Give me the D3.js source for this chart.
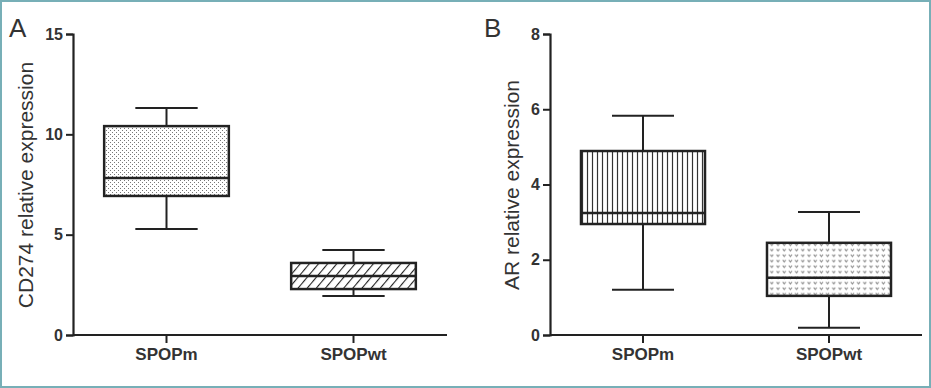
<!DOCTYPE html>
<html>
<head>
<meta charset="utf-8">
<script src="https://cdn.jsdelivr.net/npm/d3@7"></script>
<style>
  body { margin: 0; background: #fff; }
  svg { display: block; font-family: "Liberation Sans", Arial, sans-serif; }
</style>
</head>
<body>
<svg id="chart" width="931" height="388"></svg>
<script>
// data
var categories = ["SPOPm", "SPOPwt"];

var cd274Min    = [5.28, 1.94];
var cd274Q1     = [6.93, 2.29];
var cd274Median = [7.82, 2.94];
var cd274Q3     = [10.41, 3.59];
var cd274Max    = [11.31, 4.24];
var cd274Ticks  = [0, 5, 10, 15];

var arMin    = [1.20, 0.19];
var arQ1     = [2.95, 1.04];
var arMedian = [3.24, 1.52];
var arQ3     = [4.89, 2.45];
var arMax    = [5.83, 3.27];
var arTicks  = [0, 2, 4, 6, 8];

var svg = d3.select("#chart");
var ink = "#222";

// frame
svg.append("rect")
	.attr("x", 1).attr("y", 1)
	.attr("width", 929).attr("height", 386)
	.attr("fill", "none")
	.attr("stroke", "#77afb7")
	.attr("stroke-width", 2);

// fill patterns
var defs = svg.append("defs");

var p = defs.append("pattern").attr("id", "dots")
	.attr("patternUnits", "userSpaceOnUse").attr("width", 4).attr("height", 4);
p.append("rect").attr("width", 4).attr("height", 4).attr("fill", "#fff");
p.append("rect").attr("x", 0).attr("y", 0).attr("width", 1).attr("height", 1).attr("fill", "#777");
p.append("rect").attr("x", 2).attr("y", 2).attr("width", 1).attr("height", 1).attr("fill", "#777");

p = defs.append("pattern").attr("id", "hatch")
	.attr("patternUnits", "userSpaceOnUse").attr("width", 7).attr("height", 7)
	.attr("patternTransform", "rotate(40)");
p.append("rect").attr("width", 7).attr("height", 7).attr("fill", "#fff");
p.append("line").attr("x1", 0).attr("y1", 0).attr("x2", 0).attr("y2", 7)
	.attr("stroke", ink).attr("stroke-width", 2.2);

p = defs.append("pattern").attr("id", "vlines")
	.attr("patternUnits", "userSpaceOnUse").attr("width", 5).attr("height", 5);
p.append("rect").attr("width", 5).attr("height", 5).attr("fill", "#fff");
p.append("line").attr("x1", 2.5).attr("y1", 0).attr("x2", 2.5).attr("y2", 5)
	.attr("stroke", "#333").attr("stroke-width", 1.2);

p = defs.append("pattern").attr("id", "vees")
	.attr("patternUnits", "userSpaceOnUse").attr("width", 6.2).attr("height", 5.5);
p.append("rect").attr("width", 6.2).attr("height", 5.5).attr("fill", "#fff");
p.append("path").attr("d", "M1.5,1.5 L3,3.5 L4.5,1.5")
	.attr("fill", "none").attr("stroke", "#888").attr("stroke-width", 1);

function panel(opt) {
	var y = d3.scaleLinear().domain([0, opt.ticks[opt.ticks.length - 1]]).range([335, 34]);
	var x = d3.scaleBand().domain(categories)
		.range([opt.left, opt.right])
		.paddingInner(1 / 3).paddingOuter(1 / 6);
	var g = svg.append("g");

	var yAxis = g.append("g")
		.attr("transform", "translate(" + opt.left + ",0)")
		.call(d3.axisLeft(y).tickValues(opt.ticks).tickSize(7).tickPadding(3));
	var xAxis = g.append("g")
		.attr("transform", "translate(0,335)")
		.call(d3.axisBottom(x).tickSize(8).tickPadding(5).tickSizeOuter(0));
	[yAxis, xAxis].forEach(function (a) {
		a.select(".domain").attr("stroke", ink).attr("stroke-width", 2.2);
		a.selectAll(".tick line").attr("stroke", ink).attr("stroke-width", 2);
		a.selectAll("text").attr("fill", "#333").attr("font-family", "Liberation Sans, Arial, sans-serif");
	});
	yAxis.selectAll("text").attr("font-size", 16).attr("font-weight", "bold");
	xAxis.selectAll("text").attr("font-size", 17).attr("font-weight", "bold");
	// x axis line spans the whole plot
	xAxis.select(".domain").attr("d", "M" + opt.left + ",0H" + opt.right);

	g.append("text")
		.attr("transform", "translate(" + opt.titleX + ",185) rotate(-90)")
		.attr("text-anchor", "middle")
		.attr("font-size", 21)
		.attr("fill", "#333")
		.text(opt.title);

	g.append("text")
		.attr("x", opt.letterX).attr("y", 37)
		.attr("font-size", 26)
		.attr("fill", "#333")
		.text(opt.letter);

	var bw = x.bandwidth();
	categories.forEach(function (c, i) {
		var cx = x(c) + bw / 2;
		// whiskers
		g.append("line").attr("x1", cx).attr("x2", cx)
			.attr("y1", y(opt.max[i])).attr("y2", y(opt.q3[i]))
			.attr("stroke", ink).attr("stroke-width", 2);
		g.append("line").attr("x1", cx).attr("x2", cx)
			.attr("y1", y(opt.q1[i])).attr("y2", y(opt.min[i]))
			.attr("stroke", ink).attr("stroke-width", 2);
		[opt.max[i], opt.min[i]].forEach(function (v) {
			g.append("line").attr("x1", cx - bw / 4).attr("x2", cx + bw / 4)
				.attr("y1", y(v)).attr("y2", y(v))
				.attr("stroke", ink).attr("stroke-width", 2);
		});
		// box
		g.append("rect")
			.attr("x", x(c)).attr("width", bw)
			.attr("y", y(opt.q3[i])).attr("height", y(opt.q1[i]) - y(opt.q3[i]))
			.attr("fill", "url(#" + opt.fills[i] + ")")
			.attr("stroke", ink).attr("stroke-width", 2.5);
		g.append("line")
			.attr("x1", x(c)).attr("x2", x(c) + bw)
			.attr("y1", y(opt.median[i])).attr("y2", y(opt.median[i]))
			.attr("stroke", ink).attr("stroke-width", 2.5);
	});
}

panel({
	left: 73, right: 447, ticks: cd274Ticks,
	min: cd274Min, q1: cd274Q1, median: cd274Median, q3: cd274Q3, max: cd274Max,
	fills: ["dots", "hatch"],
	title: "CD274 relative expression", titleX: 33,
	letter: "A", letterX: 9
});

panel({
	left: 550, right: 922, ticks: arTicks,
	min: arMin, q1: arQ1, median: arMedian, q3: arQ3, max: arMax,
	fills: ["vlines", "vees"],
	title: "AR relative expression", titleX: 519,
	letter: "B", letterX: 484
});
</script>
</body>
</html>
